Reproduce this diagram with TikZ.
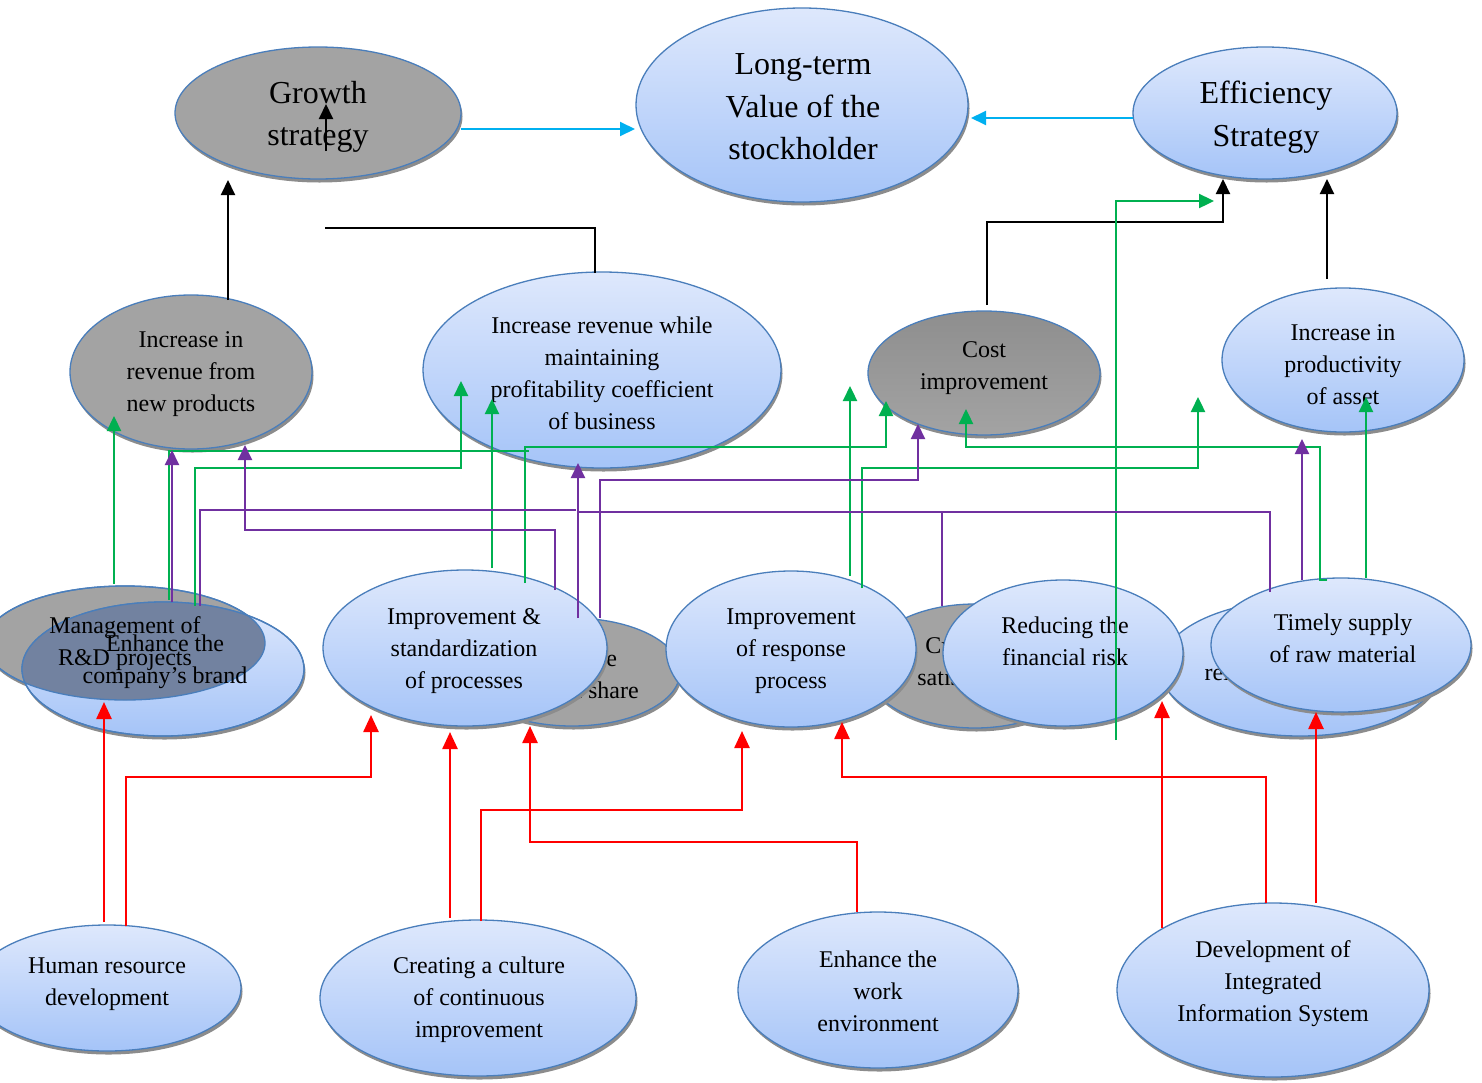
\documentclass[tikz,border=0pt]{standalone}
\usepackage{fontspec}
\setmainfont{Liberation Serif}
\usetikzlibrary{shapes.geometric,arrows.meta,shadows}
\definecolor{bt}{HTML}{DEE8FC}
\definecolor{bb}{HTML}{A5C4F8}
\definecolor{olc}{HTML}{4A7EBB}
\definecolor{gf}{HTML}{A3A3A3}
\definecolor{gft}{HTML}{8E8E8E}
\definecolor{shc}{HTML}{8C8C8C}
\definecolor{ovc}{HTML}{7282A0}
\definecolor{cya}{HTML}{00B0F0}
\definecolor{grn}{HTML}{00B050}
\definecolor{pur}{HTML}{7030A0}
\definecolor{rd}{HTML}{FF0000}
\tikzset{
  elbase/.style={ellipse, draw=olc, line width=1.3pt, inner sep=0pt,
    drop shadow={shadow xshift=1.5pt, shadow yshift=-3.5pt, fill=shc, opacity=1}},
  blueel/.style={elbase, top color=bt, bottom color=bb},
  grayel/.style={elbase, fill=gf},
  lbl/.style={align=center, inner sep=0pt, font=\fontsize{24}{32}\selectfont},
  lblbig/.style={align=center, inner sep=0pt, font=\fontsize{32}{42.5}\selectfont},
  tip/.style={-{Triangle[width=14pt,length=15pt]}},
  cyanA/.style={draw=cya, line width=2pt, tip},
  blk/.style={draw=black, line width=2pt},
  blkA/.style={blk, tip},
  grnl/.style={draw=grn, line width=2.3pt},
  grnA/.style={grnl, tip},
  purl/.style={draw=pur, line width=2pt},
  purA/.style={purl, tip},
  redA/.style={draw=rd, line width=2.5pt, -{Triangle[width=15pt,length=17pt]}}
}
\begin{document}
\begin{tikzpicture}[x=1pt,y=-1pt]
\useasboundingbox[fill=white] (0,0) rectangle (1482,1082);

% top row
\node[grayel, minimum width=286pt, minimum height=132pt] (grow) at (318,113) {};
\node[blueel, minimum width=332pt, minimum height=194pt] (ltv) at (802,105) {};
\node[blueel, minimum width=264pt, minimum height=132pt] (eff) at (1265,113) {};
\node[lblbig] (growT) at (318,117) {Growth\\strategy};
\node[lblbig] (ltvT) at (803,107) {Long-term\\Value of the\\stockholder};
\node[lblbig] (effT) at (1266,117) {Efficiency\\Strategy};

% second row
\node[grayel, minimum width=242pt, minimum height=154pt] (newp) at (191,372) {};
\node[blueel, minimum width=358pt, minimum height=196pt] (incrv) at (602,370) {};
\node[grayel, minimum width=232pt, minimum height=124pt, top color=gft, bottom color=gf] (cost) at (984,373) {};
\node[blueel, minimum width=242pt, minimum height=144pt] (prod) at (1343,360) {};
\node[lbl] (newpT) at (191,374) {Increase in\\revenue from\\new products};
\node[lbl] (incrvT) at (602,373) {Increase revenue while\\maintaining\\profitability coefficient\\of business};
\node[lbl] (costT) at (984,368) {Cost\\improvement};
\node[lbl] (prodT) at (1343,365) {Increase in\\productivity\\of asset};

% third row
\node[grayel, minimum width=280pt, minimum height=114pt] (mgmt) at (125,643) {};
\node[blueel, minimum width=282pt, minimum height=134pt] (brand) at (163,669) {};
\begin{scope}
  \clip (163,669) ellipse [x radius=141pt, y radius=67pt];
  \fill[ovc] (125,643) ellipse [x radius=140pt, y radius=57pt];
\end{scope}
\draw[olc, line width=1.3pt] (125,643) ellipse [x radius=140pt, y radius=57pt];
\draw[olc, line width=1.3pt] (163,669) ellipse [x radius=141pt, y radius=67pt];
\node[lbl] (mgmtT) at (125,644) {Management of\\R\&D projects};
\node[lbl] (brandT) at (165,662) {Enhance the\\company’s brand};

\node[grayel, minimum width=216pt, minimum height=108pt] (mkt) at (572,672) {};
\node[lbl] (mktT) at (577,675) {Increase\\market share};
\node[blueel, minimum width=284pt, minimum height=156pt] (std) at (465,648) {};
\node[lbl] (stdT) at (464,651) {Improvement \&\\standardization\\of processes};
\node[grayel, minimum width=220pt, minimum height=124pt] (cust) at (975,666) {};
\node[lbl] (custT) at (972,662) {Customer\\satisfaction};
\node[blueel, minimum width=250pt, minimum height=156pt] (resp) at (791,649) {};
\node[lbl] (respT) at (791,651) {Improvement\\of response\\process};
\node[blueel, minimum width=280pt, minimum height=136pt] (supp) at (1300,668) {};
\node[lbl] (suppT) at (1312,659) {Improving the\\relation with suppliers};
\node[blueel, minimum width=240pt, minimum height=146pt] (reduce) at (1063,653) {};
\node[lbl] (reduceT) at (1065,641) {Reducing the\\financial risk};
\node[blueel, minimum width=260pt, minimum height=134pt] (timely) at (1341,645) {};
\node[lbl] (timelyT) at (1343,638) {Timely supply\\of raw material};

% bottom row
\node[blueel, minimum width=268pt, minimum height=126pt] (hrd) at (107,988) {};
\node[lbl] (hrdT) at (107,984) {Human resource\\development};
\node[blueel, minimum width=316pt, minimum height=156pt] (cult) at (478,998) {};
\node[lbl] (cultT) at (479,1000) {Creating a culture\\of continuous\\improvement};
\node[blueel, minimum width=280pt, minimum height=156pt] (work) at (878,990) {};
\node[lbl] (workT) at (878,991) {Enhance the\\work\\environment};
\node[blueel, minimum width=312pt, minimum height=174pt] (dev) at (1273,990) {};
\node[lbl] (devT) at (1273,984) {Development of\\Integrated\\Information System};

% cyan arrows
\draw[cyanA] (461,129) -- (635,129);
\draw[cyanA] (1133,118) -- (971,118);

% black
\draw[blkA] (228,300) -- (228,180);
\draw[blkA] (326,151) -- (326,104);
\draw[blk] (595,273) -- (595,228) -- (325,228);
\draw[blkA] (987,305) -- (987,222) -- (1223,222) -- (1223,179);
\draw[blkA] (1327,279) -- (1327,179);

% green
\draw[grnA] (114,584) -- (114,416);
\draw[grnA] (195,606) -- (195,468) -- (461,468) -- (461,381);
\draw[grnl] (169,600) -- (169,451) -- (529,451);
\draw[grnA] (492,568) -- (492,399);
\draw[grnA] (525,583) -- (525,447) -- (886,447) -- (886,401);
\draw[grnA] (850,576) -- (850,386);
\draw[grnA] (862,588) -- (862,468) -- (1198,468) -- (1198,397);
\draw[grnA] (1327,580) -- (1320,580) -- (1320,447) -- (966,447) -- (966,409);
\draw[grnA] (1366,578) -- (1366,397);
\draw[grnA] (1116,740) -- (1116,201) -- (1214,201);

% purple
\draw[purA] (172,602) -- (172,450);
\draw[purl] (200,606) -- (200,510) -- (576,510);
\draw[purl] (1270,592) -- (1270,512) -- (578,512);
\draw[purl] (942,606) -- (942,512);
\draw[purA] (555,590) -- (555,530) -- (245,530) -- (245,445);
\draw[purA] (578,618) -- (578,463);
\draw[purA] (600,618) -- (600,480) -- (918,480) -- (918,424);
\draw[purA] (1302,580) -- (1302,439);

% red
\draw[redA] (104,922) -- (104,702);
\draw[redA] (126,926) -- (126,777) -- (371,777) -- (371,715);
\draw[redA] (450,918) -- (450,732);
\draw[redA] (481,921) -- (481,810) -- (742,810) -- (742,731);
\draw[redA] (857,912) -- (857,842) -- (530,842) -- (530,726);
\draw[redA] (1266,903) -- (1266,777) -- (842,777) -- (842,722);
\draw[redA] (1162,928) -- (1162,701);
\draw[redA] (1316,903) -- (1316,712);
\end{tikzpicture}
\end{document}
